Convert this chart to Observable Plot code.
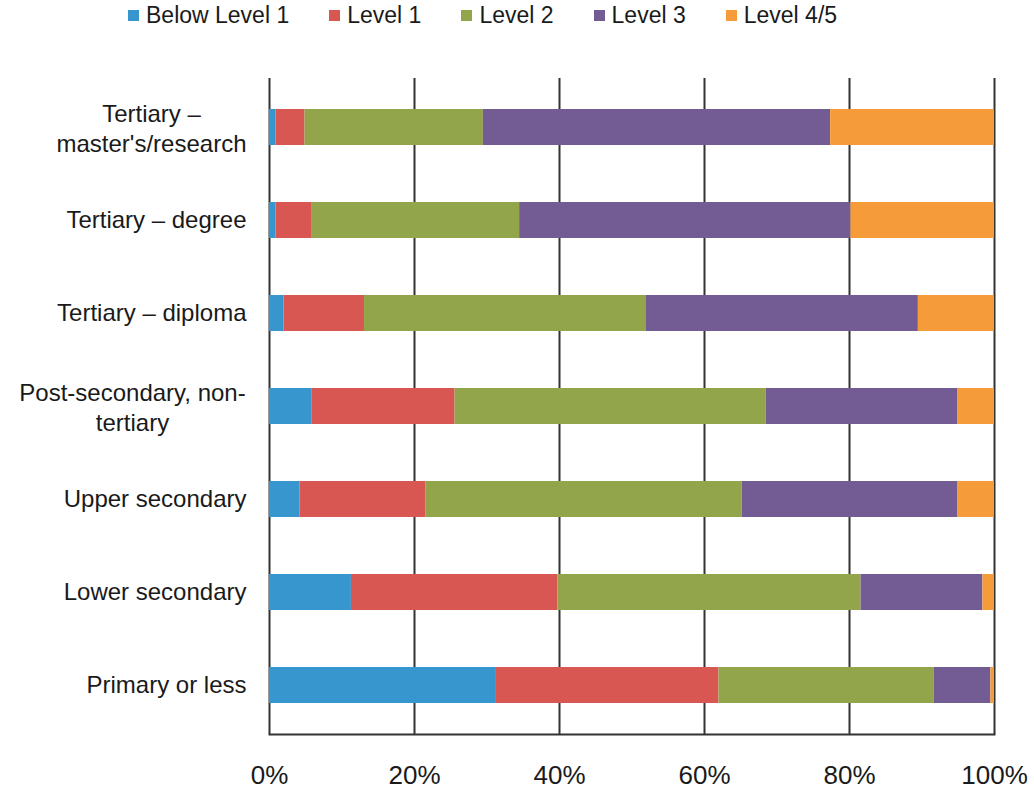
<!DOCTYPE html>
<html>
<head>
<meta charset="utf-8">
<script src="https://cdn.jsdelivr.net/npm/d3@7"></script>
<script src="https://cdn.jsdelivr.net/npm/@observablehq/plot@0.6"></script>
<style>
  html, body { margin: 0; padding: 0; background: #fff; }
  body { width: 1034px; height: 794px; overflow: hidden; font-family: "Liberation Sans", Arial, sans-serif; color: #1a1a1a; }
  #legend { height: 30px; display: flex; align-items: center; padding-left: 128px; font-size: 23px; }
  .item { display: flex; align-items: center; margin-right: 40px; }
  .sw { width: 11px; height: 11px; margin-right: 7px; }
</style>
</head>
<body>
<div id="legend"></div>
<div id="chart"></div>
<script>
const categories = [
  "Tertiary –\nmaster's/research",
  "Tertiary – degree",
  "Tertiary – diploma",
  "Post-secondary, non-\ntertiary",
  "Upper secondary",
  "Lower secondary",
  "Primary or less"
];
const levels = ["Below Level 1", "Level 1", "Level 2", "Level 3", "Level 4/5"];
const colors = ["#3796cd", "#d95752", "#93a54a", "#735c94", "#f59b3a"];

const belowLevel1 = [0.9, 0.9, 2.0, 5.9, 4.2, 11.3, 31.3];
const level1      = [4.0, 5.0, 11.1, 19.7, 17.4, 28.5, 30.7];
const level2      = [24.6, 28.6, 38.9, 42.9, 43.6, 41.8, 29.7];
const level3      = [47.9, 45.7, 37.5, 26.4, 29.7, 16.8, 7.8];
const level45     = [22.6, 19.8, 10.5, 5.1, 5.1, 1.6, 0.5];
const xTicks = [0, 20, 40, 60, 80, 100];

const series = [belowLevel1, level1, level2, level3, level45];
const data = [];
categories.forEach((c, i) => {
  series.forEach((s, j) => data.push({category: c, level: levels[j], value: s[i]}));
});

// legend
const legend = document.getElementById("legend");
levels.forEach((l, i) => {
  const it = document.createElement("div");
  it.className = "item";
  const sw = document.createElement("div");
  sw.className = "sw";
  sw.style.background = colors[i];
  const tx = document.createElement("span");
  tx.textContent = l;
  it.appendChild(sw); it.appendChild(tx);
  legend.appendChild(it);
});

const singleLine = categories.filter(c => !c.includes("\n"));

const plot = Plot.plot({
  width: 1034,
  height: 764,
  marginTop: 48,
  marginBottom: 60,
  marginLeft: 269,
  marginRight: 40,
  style: {fontFamily: "'Liberation Sans', Arial, sans-serif", color: "#1a1a1a", background: "#fff"},
  x: {domain: [0, 100]},
  y: {domain: categories, paddingInner: 0.61, paddingOuter: 0.305},
  color: {domain: levels, range: colors},
  marks: [
    Plot.ruleX(xTicks, {stroke: "#333", strokeWidth: 2}),
    Plot.barX(data, {x: "value", y: "category", fill: "level"}),
    Plot.frame({anchor: "bottom", stroke: "#333", strokeWidth: 2}),
    Plot.axisX({ticks: xTicks, tickSize: 0, tickPadding: 31, tickFormat: d => d + "%", fontSize: 26, label: null}),
    Plot.axisY({ticks: singleLine, tickSize: 0, tickPadding: 23, fontSize: 24, label: null, textAnchor: "end"}),
    Plot.axisY({ticks: [categories[0]], tickSize: 0, tickPadding: 0, fontSize: 24, label: null, textAnchor: "middle", dx: -118, lineHeight: 1.27}),
    Plot.axisY({ticks: [categories[3]], tickSize: 0, tickPadding: 0, fontSize: 24, label: null, textAnchor: "middle", dx: -137, lineHeight: 1.27})
  ]
});
document.getElementById("chart").appendChild(plot);
</script>
</body>
</html>
